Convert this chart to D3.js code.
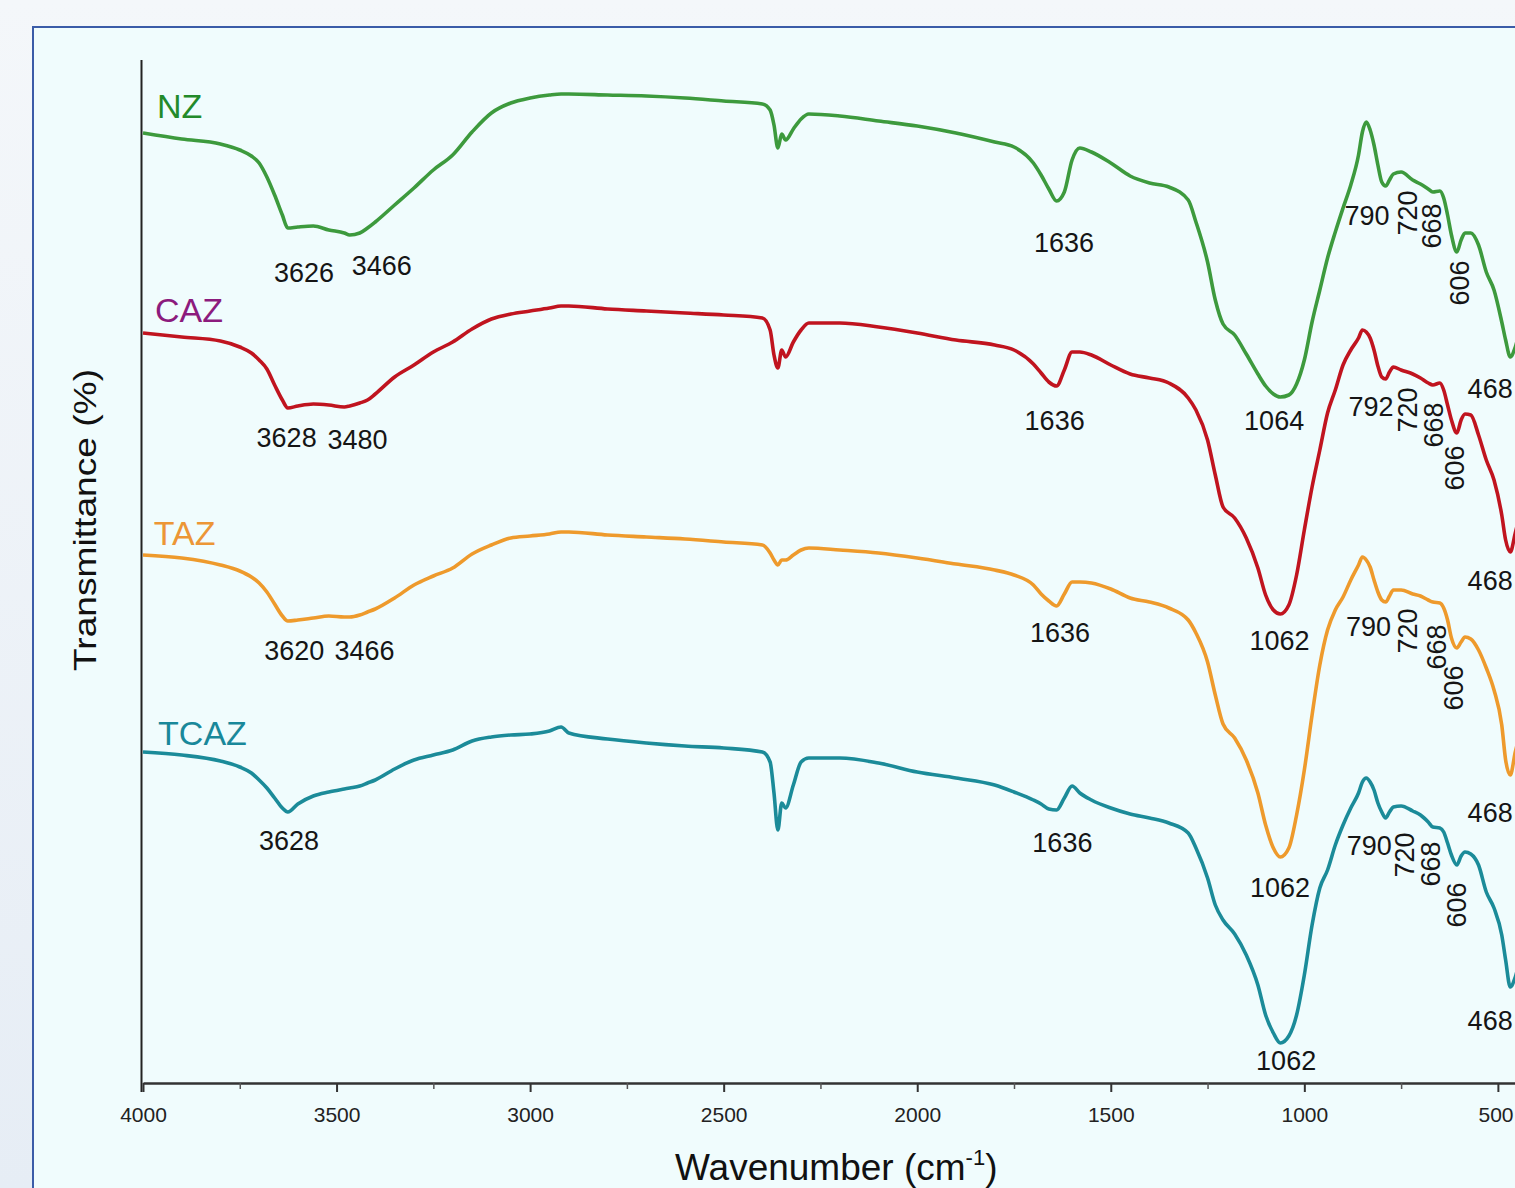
<!DOCTYPE html>
<html>
<head>
<meta charset="utf-8">
<script src="https://cdn.jsdelivr.net/npm/d3@7"></script>
<style>
  html, body { margin: 0; padding: 0; background: #eef3f8; }
  svg { display: block; font-family: "Liberation Sans", Arial, sans-serif; }
</style>
</head>
<body>
<svg id="chart" width="1515" height="1188"></svg>
<script>
// ---------------- DATA ----------------
const wavenumbers = [
  4000, 3900, 3800, 3750, 3720, 3700, 3680, 3660, 3640, 3626,
  3600, 3560, 3520, 3480, 3466, 3440, 3420, 3400, 3350, 3300,
  3250, 3200, 3150, 3100, 3050, 3000, 2950, 2920, 2900, 2800,
  2700, 2600, 2500, 2400, 2380, 2370, 2360, 2350, 2340, 2320,
  2300, 2280, 2200, 2100, 2000, 1900, 1800, 1750, 1700, 1680,
  1660, 1640, 1620, 1600, 1580, 1550, 1500, 1450, 1400, 1350,
  1300, 1280, 1250, 1230, 1210, 1180, 1150, 1120, 1100, 1080,
  1062, 1040, 1020, 1000, 980, 960, 940, 920, 900, 880,
  860, 850, 840, 830, 820, 810, 800, 790, 780, 770,
  750, 720, 700, 680, 668, 650, 640, 630, 620, 606,
  595, 585, 570, 550, 530, 510, 490, 480, 468, 455,
  440, 420
];

const nzT = [
  95.0, 94.4, 93.9, 93.3, 92.7, 92.0, 90.6, 88.8, 86.8, 85.5,
  85.6, 85.7, 85.3, 85.0, 84.8, 85.0, 85.5, 86.1, 87.8, 89.5,
  91.3, 92.8, 95.1, 97.0, 98.0, 98.5, 98.8, 98.9, 98.9, 98.8,
  98.7, 98.5, 98.2, 97.9, 97.3, 95.8, 93.5, 94.9, 94.3, 95.4,
  96.4, 96.9, 96.7, 96.2, 95.7, 95.0, 94.1, 93.6, 92.0, 90.8,
  89.4, 88.2, 89.1, 92.3, 93.5, 93.1, 92.0, 90.7, 90.0, 89.6,
  88.3, 86.1, 82.1, 78.3, 75.9, 74.8, 72.9, 70.9, 69.7, 68.9,
  68.6, 68.8, 69.9, 72.3, 76.1, 79.3, 82.5, 85.1, 87.5, 89.8,
  92.8, 95.1, 96.1, 95.3, 93.8, 91.8, 90.1, 89.7, 90.3, 90.9,
  91.1, 90.3, 89.9, 89.4, 89.1, 89.2, 88.5, 86.8, 84.8, 83.1,
  84.3, 85.0, 85.0, 83.8, 81.1, 79.3, 76.1, 74.3, 72.6, 73.6,
  75.8, 77.8
];

const cazT = [
  75.0, 74.6, 74.2, 73.6, 73.0, 72.3, 71.4, 69.8, 68.3, 67.5,
  67.7, 67.9, 67.8, 67.6, 67.7, 68.0, 68.3, 68.9, 70.6, 71.8,
  73.1, 74.1, 75.4, 76.4, 76.9, 77.2, 77.5, 77.7, 77.7, 77.4,
  77.2, 77.0, 76.8, 76.5, 75.3, 72.8, 71.5, 73.3, 72.6, 74.1,
  75.3, 76.0, 76.0, 75.6, 75.0, 74.3, 73.8, 73.3, 71.9, 71.0,
  70.1, 69.7, 71.3, 73.1, 73.1, 72.8, 71.8, 70.9, 70.5, 70.0,
  68.5, 67.3, 64.3, 60.8, 57.6, 56.5, 54.5, 51.5, 48.8, 47.3,
  46.9, 47.8, 50.8, 55.3, 59.6, 63.3, 67.0, 69.3, 71.8, 73.3,
  74.5, 75.3, 75.1, 74.5, 73.3, 71.7, 70.6, 70.4, 71.1, 71.6,
  71.3, 70.9, 70.5, 70.0, 69.8, 70.0, 69.3, 67.8, 66.3, 65.0,
  66.3, 66.9, 66.8, 64.8, 62.3, 60.3, 56.8, 54.3, 53.1, 55.0,
  57.3, 59.3
];

const tazT = [
  52.8, 52.5, 51.8, 51.2, 50.6, 50.0, 49.1, 47.9, 46.7, 46.2,
  46.3, 46.5, 46.7, 46.6, 46.6, 46.8, 47.1, 47.4, 48.5, 49.8,
  50.7, 51.5, 52.9, 53.8, 54.5, 54.7, 54.9, 55.1, 55.1, 54.8,
  54.6, 54.4, 54.1, 53.8, 53.0, 52.3, 51.8, 52.3, 52.3, 52.8,
  53.3, 53.5, 53.3, 53.0, 52.5, 51.9, 51.3, 50.8, 49.8, 48.9,
  48.2, 47.7, 48.9, 50.1, 50.1, 50.0, 49.4, 48.5, 48.1, 47.5,
  46.3, 45.0, 42.1, 38.8, 35.9, 34.5, 32.3, 29.0, 25.8, 23.5,
  22.6, 23.5, 26.8, 31.3, 36.8, 41.8, 45.3, 47.3, 48.6, 50.3,
  51.8, 52.6, 52.3, 51.6, 50.3, 49.1, 48.3, 48.1, 48.7, 49.3,
  49.3, 48.9, 48.7, 48.3, 48.1, 48.0, 47.5, 46.3, 44.5, 43.5,
  44.1, 44.6, 44.4, 43.3, 41.5, 39.3, 35.8, 32.3, 30.8, 33.1,
  35.3, 37.3
];

const tcazT = [
  33.1, 32.8, 32.2, 31.6, 31.0, 30.3, 29.5, 28.5, 27.5, 27.1,
  27.9, 28.7, 29.1, 29.4, 29.5, 29.7, 30.0, 30.3, 31.4, 32.3,
  32.8, 33.3, 34.2, 34.6, 34.8, 34.9, 35.2, 35.6, 35.0, 34.4,
  34.0, 33.7, 33.5, 33.1, 32.1, 29.0, 25.3, 28.0, 27.5, 29.8,
  32.1, 32.5, 32.5, 32.0, 31.1, 30.5, 29.8, 29.1, 28.3, 27.9,
  27.4, 27.3, 28.5, 29.7, 29.0, 28.3, 27.5, 26.9, 26.5, 26.0,
  25.0, 23.5, 20.5, 17.8, 16.3, 14.9, 12.8, 9.8, 6.8, 5.0,
  4.0, 4.7, 6.8, 10.8, 15.8, 19.5, 21.3, 23.8, 25.8, 27.5,
  29.0, 30.1, 30.5, 30.1, 29.3, 28.0, 27.1, 26.5, 27.1, 27.6,
  27.7, 27.2, 26.8, 26.1, 25.6, 25.5, 25.1, 24.0, 22.8, 21.8,
  22.7, 23.1, 22.9, 21.8, 19.1, 17.5, 14.8, 12.3, 9.6, 10.6,
  12.8, 14.8
];

const seriesNames  = ["NZ", "CAZ", "TAZ", "TCAZ"];
const seriesValues = [nzT, cazT, tazT, tcazT];
const lineColors   = ["#3d9a3d", "#c0141f", "#ee9a2c", "#1b8b99"];
const nameColors   = ["#238a2a", "#8c1b7d", "#ec9636", "#19889a"];
// name label anchor: [wavenumber, transmittance]
const nameAnchors  = [[3964, 96.5], [3969, 76.1], [3972, 53.8], [3961, 33.8]];

const majorTicks = [4000, 3500, 3000, 2500, 2000, 1500, 1000, 500];
const minorTicks = [3750, 3250, 2750, 2250, 1750, 1250, 750];

// peak annotations: [text, wavenumber, transmittance, rotated]
const nzPeaks = [
  ["3626", 3584, 80.1, false], ["3466", 3383, 80.8, false], ["1636", 1621, 83.1, false],
  ["1064", 1078, 65.3, false], ["790", 838, 85.8, false], ["720", 732, 87.0, true],
  ["668", 670, 85.7, true], ["606", 598, 80.0, true], ["468", 520, 68.5, false]
];
const cazPeaks = [
  ["3628", 3629, 63.6, false], ["3480", 3446, 63.4, false], ["1636", 1645, 65.3, false],
  ["1062", 1064, 43.3, false], ["792", 828, 66.7, false], ["720", 732, 67.3, true],
  ["668", 665, 65.8, true], ["606", 611, 61.5, true], ["468", 520, 49.3, false]
];
const tazPeaks = [
  ["3620", 3609, 42.3, false], ["3466", 3428, 42.3, false], ["1636", 1631, 44.1, false],
  ["1062", 1063, 18.6, false], ["790", 834, 44.7, false], ["720", 732, 45.2, true],
  ["668", 657, 43.6, true], ["606", 613, 39.5, true], ["468", 520, 26.1, false]
];
const tcazPeaks = [
  ["3628", 3623, 23.3, false], ["1636", 1625, 23.1, false], ["1062", 1047, 1.3, false],
  ["790", 832, 22.8, false], ["720", 740, 22.8, true], ["668", 673, 21.9, true],
  ["606", 606, 17.8, true], ["468", 520, 5.3, false]
];
const allPeaks = [nzPeaks, cazPeaks, tazPeaks, tcazPeaks];

// ---------------- DRAWING ----------------
const W = 1515, H = 1188;
const svg = d3.select("#chart");

const defs = svg.append("defs");
const g1 = defs.append("linearGradient").attr("id", "outerBg")
  .attr("x1", 0).attr("y1", 0).attr("x2", 0).attr("y2", 1);
g1.append("stop").attr("offset", "0%").attr("stop-color", "#f4f7fa");
g1.append("stop").attr("offset", "100%").attr("stop-color", "#e6edf5");

svg.append("rect").attr("x", 0).attr("y", 0).attr("width", W).attr("height", H)
  .attr("fill", "url(#outerBg)");
svg.append("rect").attr("x", 33).attr("y", 27).attr("width", W + 20).attr("height", H + 20)
  .attr("fill", "#f0fcfd").attr("stroke", "#3b5ca8").attr("stroke-width", 2);

const x = d3.scaleLinear().domain([4000, 400]).range([143, 1536.6]);
const y = d3.scaleLinear().domain([0, 100]).range([1083, 83]);

// y axis line (no ticks)
svg.append("line")
  .attr("x1", x(4000) - 1.5).attr("x2", x(4000) - 1.5)
  .attr("y1", y(102.3)).attr("y2", y(0) + 9)
  .attr("stroke", "#222").attr("stroke-width", 2);

// x axis
const xAxis = d3.axisBottom(x).tickValues(majorTicks).tickSize(9).tickSizeOuter(0)
  .tickPadding(15).tickFormat(d3.format("d"));
const gx = svg.append("g").attr("transform", `translate(0,${y(0)})`).call(xAxis);
gx.select(".domain").attr("stroke", "#333").attr("stroke-width", 2.5);
gx.selectAll(".tick line").attr("stroke", "#333").attr("stroke-width", 2);
gx.selectAll(".tick text").attr("font-size", 21).attr("fill", "#222")
  .attr("font-family", "'Liberation Sans', Arial, sans-serif");
// keep the last tick label inside the picture
gx.selectAll(".tick text").filter(d => x(d) + 20 > W)
  .attr("text-anchor", "end").attr("x", d => (W - 2) - x(d));

const xMinor = d3.axisBottom(x).tickValues(minorTicks).tickSize(6).tickSizeOuter(0).tickFormat("");
const gm = svg.append("g").attr("transform", `translate(0,${y(0)})`).call(xMinor);
gm.select(".domain").remove();
gm.selectAll(".tick line").attr("stroke", "#555").attr("stroke-width", 1.5);

// spectra
const line = d3.line()
  .x((d, i) => x(wavenumbers[i]))
  .y(d => y(d))
  .curve(d3.curveMonotoneX);

seriesValues.forEach((vals, k) => {
  svg.append("path").datum(vals)
    .attr("d", line)
    .attr("fill", "none")
    .attr("stroke", lineColors[k])
    .attr("stroke-width", 3.6)
    .attr("stroke-linejoin", "round");
});

// series names
seriesNames.forEach((name, k) => {
  svg.append("text")
    .attr("x", x(nameAnchors[k][0])).attr("y", y(nameAnchors[k][1]))
    .attr("font-size", 34).attr("fill", nameColors[k])
    .text(name);
});

// peak annotations
allPeaks.forEach(list => {
  list.forEach(([txt, wn, t, rot]) => {
    const px = x(wn), py = y(t);
    const el = svg.append("text")
      .attr("font-size", 27).attr("fill", "#151515")
      .attr("text-anchor", "middle")
      .text(txt);
    if (rot) {
      el.attr("dominant-baseline", "central")
        .attr("transform", `translate(${px},${py}) rotate(-90)`);
    } else {
      el.attr("x", px).attr("y", py);
    }
  });
});

// axis titles
const xt = svg.append("text").attr("x", 675).attr("y", 1180)
  .attr("font-size", 37).attr("fill", "#111");
xt.append("tspan").text("Wavenumber (cm");
xt.append("tspan").attr("font-size", 22).attr("dy", -15).text("-1");
xt.append("tspan").attr("font-size", 37).attr("dy", 15).text(")");

svg.append("text")
  .attr("transform", "translate(96,520) rotate(-90)")
  .attr("text-anchor", "middle")
  .attr("font-size", 32).attr("fill", "#111")
  .attr("textLength", 302).attr("lengthAdjust", "spacingAndGlyphs")
  .text("Transmittance (%)");
</script>
</body>
</html>
